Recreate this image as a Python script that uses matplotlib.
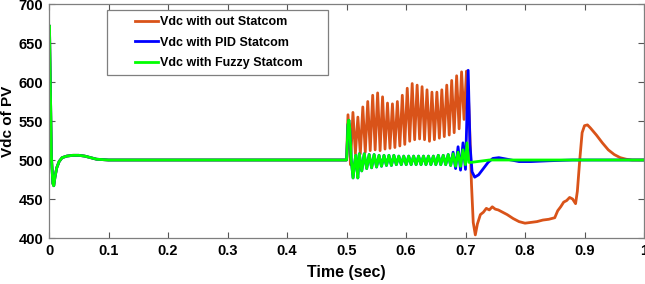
import numpy as np
import matplotlib
matplotlib.use("Agg")
import matplotlib.pyplot as plt
from matplotlib.patches import Rectangle

# ---------------- data ----------------
# common start-up transient (all three cases identical before 0.5 s)
start_t = [0.0, 0.0008, 0.0018, 0.004, 0.0065, 0.008, 0.010, 0.013, 0.017, 0.022,
           0.030, 0.040, 0.050, 0.060, 0.070, 0.080, 0.100, 0.500]
start_v = [500, 672, 620, 505, 470, 467, 478, 490, 498, 503,
           505, 506, 506, 505, 503, 501, 500, 500]

# fault transient right after 0.5 s (PID & fuzzy)
fault_t = [0.5005, 0.5025, 0.504, 0.5055, 0.508, 0.511, 0.5135, 0.5155, 0.5175, 0.519]
fault_v = [505, 545, 551, 540, 500, 477, 495, 506, 490, 477]

# fuzzy STATCOM oscillation (peak / following trough), 0.52 - 0.70 s
osc_g_t0 = 0.5215
osc_period = 0.0083
green_peaks = [508, 508, 507, 507, 506, 506, 506, 506, 505, 505, 505,
               505, 505, 505, 505, 505, 506, 506, 507, 508, 510, 513]
green_troughs = [486, 489, 490, 491, 492, 493, 493, 494, 494, 494, 494,
                 494, 494, 494, 494, 494, 494, 494, 493, 492, 492, 494]
green_end_t = [0.7025, 0.7055, 0.710, 0.720, 0.740, 1.0]
green_end_v = [522, 497, 497, 498, 500, 500]

# PID STATCOM: same as fuzzy, larger last swings, then spike & recovery
blue_peaks = green_peaks[:19] + [510, 517, 522]
blue_troughs = green_troughs[:19] + [489, 487, 488]
blue_end_t = [0.7045, 0.7075, 0.711, 0.7155, 0.722, 0.730, 0.738, 0.746, 0.756,
              0.770, 0.790, 0.810, 0.840, 0.880, 0.920, 1.0]
blue_end_v = [615, 520, 485, 478, 481, 489, 497, 502, 503,
              501, 498, 498, 499, 500, 500, 500]

# without STATCOM: large oscillation 0.50 - 0.70 s, collapse, recovery
osc_o_t0 = 0.5025
orange_peaks = [558, 561, 555, 568, 575, 583, 586, 581, 573, 572, 575, 583, 592,
                598, 596, 594, 590, 587, 587, 590, 596, 602, 608, 613, 614]
orange_troughs = [494, 508, 508, 510, 512, 513, 512, 514, 515, 516, 518, 520,
                  524, 526, 527, 526, 524, 526, 528, 530, 532, 535, 540, 552]
orange_end_t = [0.7045, 0.707, 0.710, 0.713, 0.7165, 0.720, 0.725, 0.730, 0.735,
                0.740, 0.745, 0.750, 0.755, 0.760, 0.770, 0.780, 0.790, 0.800,
                0.810, 0.820, 0.830, 0.840, 0.850, 0.855, 0.860, 0.865, 0.870,
                0.875, 0.880, 0.885, 0.888, 0.892, 0.896, 0.900, 0.905, 0.910,
                0.920, 0.930, 0.940, 0.950, 0.960, 0.970, 0.980, 1.0]
orange_end_v = [590, 540, 470, 420, 404, 418, 430, 433, 438,
                436, 440, 437, 436, 434, 430, 425, 421, 419,
                420, 421, 423, 424, 426, 435, 440, 446, 448,
                452, 450, 444, 460, 500, 535, 544, 545, 541,
                532, 522, 513, 507, 503, 501, 500, 500]

xticks = [0, 0.1, 0.2, 0.3, 0.4, 0.5, 0.6, 0.7, 0.8, 0.9, 1]
xticklabels = ["0", "0.1", "0.2", "0.3", "0.4", "0.5", "0.6", "0.7", "0.8", "0.9", "1"]
yticks = [400, 450, 500, 550, 600, 650, 700]
labels = ["Vdc with out Statcom", "Vdc with PID Statcom", "Vdc with Fuzzy Statcom"]
colors = ["#D95319", "#0000FF", "#00FF00"]


def osc_series(t0, period, peaks, troughs):
    t, v = [], []
    for k, p in enumerate(peaks):
        t.append(t0 + k * period)
        v.append(p)
        if k < len(troughs):
            t.append(t0 + k * period + period / 2)
            v.append(troughs[k])
    return t, v


gt, gv = osc_series(osc_g_t0, osc_period, green_peaks, green_troughs)
bt, bv = osc_series(osc_g_t0, osc_period, blue_peaks, blue_troughs)
ot, ov = osc_series(osc_o_t0, osc_period, orange_peaks, orange_troughs)

green_t = start_t + fault_t + gt + green_end_t
green_v = start_v + fault_v + gv + green_end_v
blue_t = start_t + fault_t + bt + blue_end_t
blue_v = start_v + fault_v + bv + blue_end_v
orange_t = start_t + ot + orange_end_t
orange_v = start_v + ov + orange_end_v

# ---------------- plot ----------------
plt.rcParams['font.family'] = ['Liberation Sans', 'DejaVu Sans']
fig = plt.figure(figsize=(6.45, 2.84), dpi=100)
ax = fig.add_axes([49 / 645, 46 / 284, 595 / 645, 234 / 284])

lw = 2.0
ax.plot(orange_t, orange_v, color=colors[0], lw=lw, label=labels[0])
ax.plot(blue_t, blue_v, color=colors[1], lw=lw, label=labels[1])
ax.plot(green_t, green_v, color=colors[2], lw=lw, label=labels[2])

ax.set_xlim(0, 1)
ax.set_ylim(400, 700)
ax.set_xticks(xticks)
ax.set_xticklabels(xticklabels)
ax.set_yticks(yticks)
ax.tick_params(direction='in', top=True, right=True, length=4, width=0.8,
               color='#555555', labelsize=10.5, pad=4)
for lab in ax.get_xticklabels() + ax.get_yticklabels():
    lab.set_fontweight('bold')
for s in ax.spines.values():
    s.set_color('#7f7f7f')
    s.set_linewidth(0.9)

ax.set_xlabel("Time (sec)", fontsize=11.5, fontweight='bold', labelpad=5)
ax.set_ylabel("Vdc of PV", fontsize=11, fontweight='bold', labelpad=3)

# legend frame (drawn separately for MATLAB-like padding)
x0 = (107 - 49) / 595
x1 = (328 - 49) / 595
y1 = 1 - (10 - 4) / 234
y0 = 1 - (75 - 4) / 234
ax.add_patch(Rectangle((x0, y0), x1 - x0, y1 - y0, transform=ax.transAxes,
                       facecolor='white', edgecolor='#7f7f7f', lw=0.9, zorder=5))
leg = ax.legend(loc='upper left', bbox_to_anchor=((135 - 49) / 595, 1 - (16 - 4) / 234),
                frameon=False, borderaxespad=0, borderpad=0,
                prop={'weight': 'bold', 'size': 9}, handlelength=1.85,
                handletextpad=0.15, labelspacing=0.68)
leg.set_zorder(6)
for h in leg.get_lines():
    h.set_linewidth(2)

fig.savefig("out.png", dpi=100)
